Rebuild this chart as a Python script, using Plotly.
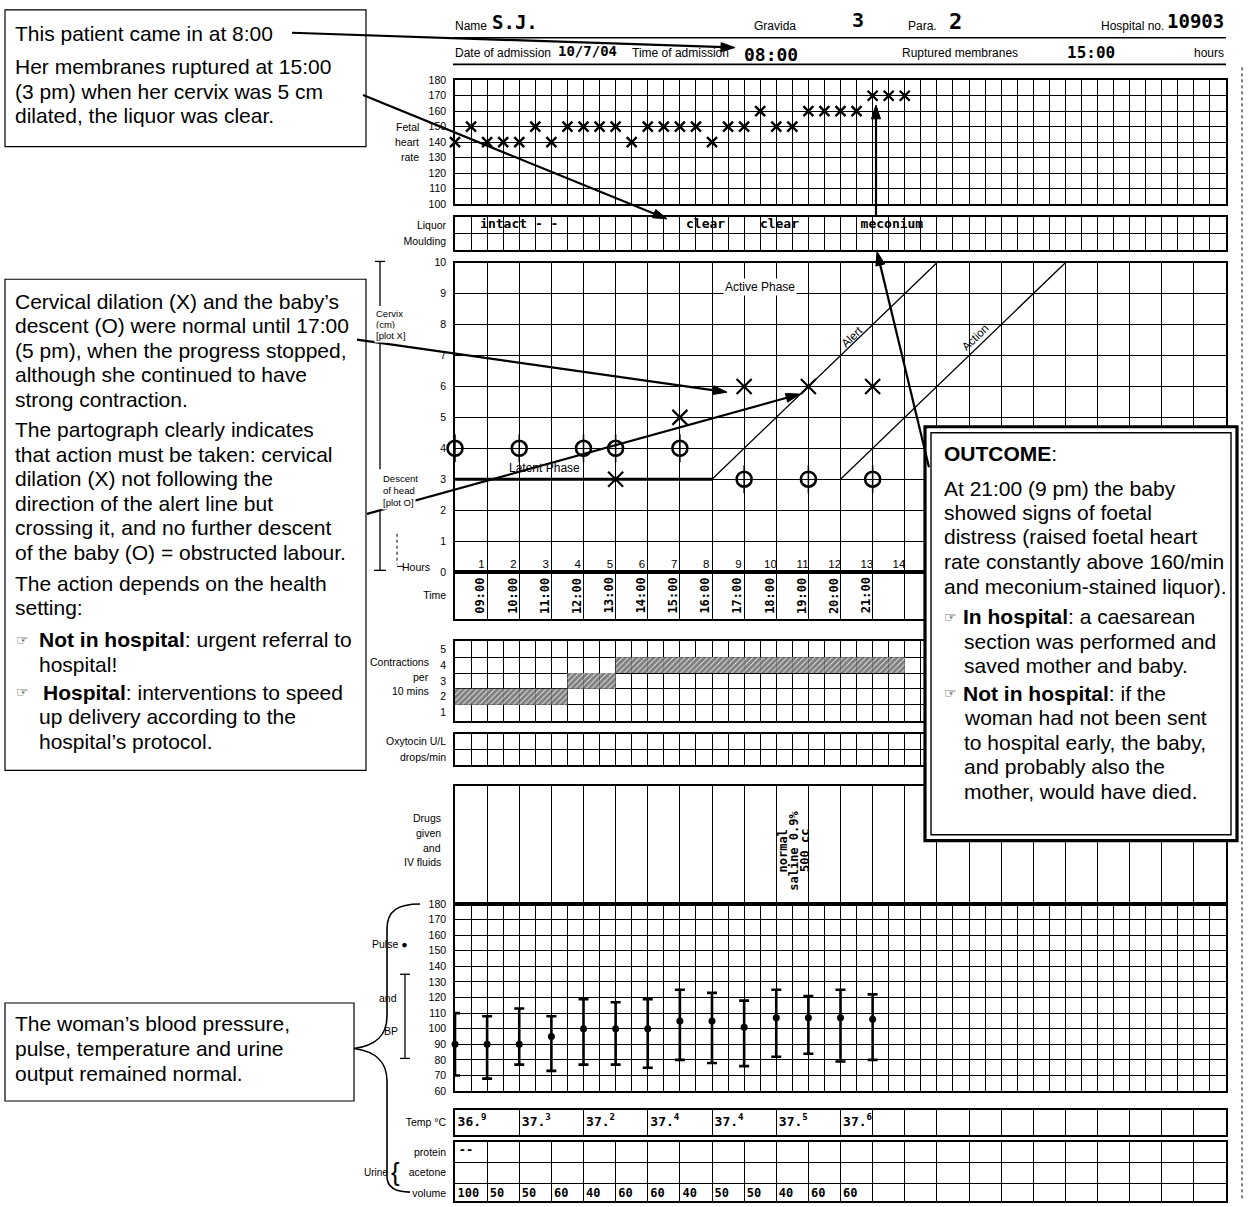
import plotly.graph_objects as go

W, H = 1251, 1207
GX0, GX1 = 455, 1226          # left / right edge of the partograph grids (px)

SANS = "Liberation Sans, Arial, sans-serif"
HAND = "DejaVu Sans Mono, monospace"

# ---------------- data (hours after admission at 08:00) ----------------
patient_name = "S.J."
gravida = "3"
para = "2"
hospital_no = "10903"
admission_date = "10/7/04"
admission_time = "08:00"
ruptured_membranes = "15:00"

fhr_time = [0, 0.5, 1, 1.5, 2, 2.5, 3, 3.5, 4, 4.5, 5, 5.5, 6, 6.5, 7, 7.5,
            8, 8.5, 9, 9.5, 10, 10.5, 11, 11.5, 12, 12.5, 13, 13.5, 14]
fhr_rate = [140, 150, 140, 140, 140, 150, 140, 150, 150, 150, 150, 140, 150, 150, 150, 150,
            140, 150, 150, 160, 150, 150, 160, 160, 160, 160, 170, 170, 170]

liquor_time = [2.0, 7.8, 10.1, 13.6]
liquor_text = ["intact - -", "clear", "clear", "meconium"]

dilation_time = [5, 7, 9, 11, 13]
dilation_cm = [3, 5, 6, 6, 6]
descent_time = [0, 2, 4, 5, 7, 9, 11, 13]
descent_fifths = [4, 4, 4, 4, 4, 3, 3, 3]

latent_time = [0, 8]
latent_cm = [3, 3]
alert_time = [8, 15]
alert_cm = [3, 10]
action_time = [12, 19]
action_cm = [3, 10]

hour_numbers = [1, 2, 3, 4, 5, 6, 7, 8, 9, 10, 11, 12, 13, 14, 15]
clock_hour = [1, 2, 3, 4, 5, 6, 7, 8, 9, 10, 11, 12, 13]
clock_text = ["09:00", "10:00", "11:00", "12:00", "13:00", "14:00", "15:00",
              "16:00", "17:00", "18:00", "19:00", "20:00", "21:00"]

contr_time = [0, 0.5, 1, 1.5, 2, 2.5, 3, 3.5, 4, 4.5, 5, 5.5, 6, 6.5,
              7, 7.5, 8, 8.5, 9, 9.5, 10, 10.5, 11, 11.5, 12, 12.5, 13, 13.5]
contr_count = [2, 2, 2, 2, 2, 2, 2, 3, 3, 3, 4, 4, 4, 4,
               4, 4, 4, 4, 4, 4, 4, 4, 4, 4, 4, 4, 4, 4]

drug_time = [10.2, 10.55, 10.9]
drug_text = ["normal", "saline 0.9%", "500 cc"]

bp_time = [0, 1, 2, 3, 4, 5, 6, 7, 8, 9, 10, 11, 12, 13]
bp_systolic = [110, 108, 113, 108, 119, 117, 119, 125, 123, 118, 125, 121, 125, 122]
bp_diastolic = [70, 68, 77, 73, 77, 77, 75, 80, 78, 76, 82, 84, 79, 80]
pulse_rate = [90, 90, 90, 95, 100, 100, 100, 105, 105, 101, 107, 107, 107, 106]

temp_time = [0, 2, 4, 6, 8, 10, 12]
temp_text = ["36.<sup>9</sup>", "37.<sup>3</sup>", "37.<sup>2</sup>", "37.<sup>4</sup>",
             "37.<sup>4</sup>", "37.<sup>5</sup>", "37.<sup>6</sup>"]

urine_time = [0, 1, 2, 3, 4, 5, 6, 7, 8, 9, 10, 11, 12]
urine_volume = [100, 50, 50, 60, 40, 60, 60, 40, 50, 50, 40, 60, 60]
protein_time = [0]
protein_text = ["--"]


def yp(y):
    return 1 - y / H


half = [k / 2 for k in range(49)]
hourly = list(range(25))
temp_grid = [0, 2, 4, 6, 8, 10, 12] + list(range(13, 25))

# panels: top px, bottom px, y range, y grid, x grid, tick values, tick texts
panels = [
    dict(top=75, bot=200, rng=[100, 180], yg=list(range(100, 181, 10)), xg=half,
         tv=list(range(100, 181, 10)), tt=[str(v) for v in range(100, 181, 10)]),
    dict(top=213, bot=246, rng=[0, 2], yg=[0, 1, 2], xg=half,
         tv=[1.5, 0.5], tt=["Liquor", "Moulding"]),
    dict(top=259.3, bot=571.7, rng=[0, 10], yg=list(range(11)), xg=hourly,
         tv=list(range(11)), tt=[str(v) for v in range(11)]),
    dict(top=571.7, bot=619.5, rng=[0, 1], yg=[], xg=hourly, tv=[0.5], tt=["Time"]),
    dict(top=641.7, bot=721.7, rng=[0, 5], yg=list(range(6)), xg=half,
         tv=[4.5, 3.5, 2.5, 1.5, 0.5], tt=["5", "4", "3", "2", "1"]),
    dict(top=735, bot=767, rng=[0, 2], yg=[0, 1, 2], xg=half,
         tv=[1.5, 0.5], tt=["Oxytocin U/L", "drops/min"]),
    dict(top=787.7, bot=907, rng=[0, 1], yg=[], xg=hourly, tv=[], tt=[]),
    dict(top=907, bot=1096, rng=[60, 180], yg=list(range(60, 181, 10)), xg=half,
         tv=list(range(60, 181, 10)), tt=[str(v) for v in range(60, 181, 10)]),
    dict(top=1115, bot=1140, rng=[0, 1], yg=[], xg=temp_grid, tv=[0.5], tt=["Temp °C"]),
    dict(top=1147, bot=1207, rng=[0.143, 3], yg=[1, 2, 3], xg=hourly,
         tv=[2.5, 1.5, 0.5], tt=["protein", "acetone", "volume"]),
]

fig = go.Figure()
axes = {}
for i, p in enumerate(panels, start=1):
    s = "" if i == 1 else str(i)
    axes[f"xaxis{s}"] = dict(
        domain=[GX0 / W, GX1 / W], range=[0, 24], anchor=f"y{s}", fixedrange=True,
        showticklabels=False, ticks="", showgrid=False, zeroline=False,
        showline=True, mirror=True, linecolor="black", linewidth=1.6,
        minor=dict(tickmode="array", tickvals=p["xg"], showgrid=True,
                   gridcolor="black", gridwidth=1.1, ticks=""))
    axes[f"yaxis{s}"] = dict(
        domain=[yp(p["bot"]), yp(p["top"])], range=p["rng"], anchor=f"x{s}", fixedrange=True,
        tickmode="array", tickvals=p["tv"], ticktext=p["tt"], ticks="",
        ticklabelstandoff=5, tickfont=dict(family=SANS, size=10.5, color="black"),
        showgrid=False, zeroline=False,
        showline=True, mirror=True, linecolor="black", linewidth=1.6,
        minor=dict(tickmode="array", tickvals=p["yg"], showgrid=True,
                   gridcolor="black", gridwidth=1.1, ticks=""))


def hand(size):
    return dict(family=HAND, size=size, color="black", weight="bold")


# ---------------- traces ----------------
fig.add_trace(go.Scatter(
    x=fhr_time, y=fhr_rate, mode="markers", xaxis="x", yaxis="y", cliponaxis=False,
    marker=dict(symbol="x-thin-open", size=10, color="black",
                line=dict(width=2.4, color="black"))))

fig.add_trace(go.Scatter(
    x=liquor_time, y=[1.5] * len(liquor_time), mode="text", text=liquor_text,
    xaxis="x2", yaxis="y2", textfont=hand(13)))

fig.add_trace(go.Scatter(x=latent_time, y=latent_cm, mode="lines", xaxis="x3", yaxis="y3",
                         line=dict(color="black", width=3.2)))
fig.add_trace(go.Scatter(x=alert_time, y=alert_cm, mode="lines", xaxis="x3", yaxis="y3",
                         line=dict(color="black", width=1.3)))
fig.add_trace(go.Scatter(x=action_time, y=action_cm, mode="lines", xaxis="x3", yaxis="y3",
                         line=dict(color="black", width=1.3)))
fig.add_trace(go.Scatter(
    x=descent_time, y=descent_fifths, mode="markers", xaxis="x3", yaxis="y3", cliponaxis=False,
    marker=dict(symbol="line-ns-open", size=20, color="black",
                line=dict(width=1.5, color="black"))))
fig.add_trace(go.Scatter(
    x=descent_time, y=descent_fifths, mode="markers", xaxis="x3", yaxis="y3", cliponaxis=False,
    marker=dict(symbol="circle-open", size=15, color="black",
                line=dict(width=2.6, color="black"))))
fig.add_trace(go.Scatter(
    x=dilation_time, y=dilation_cm, mode="markers", xaxis="x3", yaxis="y3",
    marker=dict(symbol="x-thin-open", size=15, color="black",
                line=dict(width=2.2, color="black"))))
fig.add_trace(go.Scatter(
    x=[n - 0.18 for n in hour_numbers], y=[0.22] * len(hour_numbers), mode="text",
    text=[str(n) for n in hour_numbers], xaxis="x3", yaxis="y3",
    textfont=dict(family=SANS, size=11.5, color="black")))

fig.add_trace(go.Bar(
    x=[t + 0.25 for t in contr_time], y=[1] * len(contr_time),
    base=[c - 1 for c in contr_count], width=0.5, xaxis="x5", yaxis="y5",
    marker=dict(color="white", line=dict(width=0),
                pattern=dict(shape="/", fgcolor="black", bgcolor="white", size=4, solidity=0.8))))

# oxytocin was not given: an invisible point keeps the empty oxytocin grid on the page
fig.add_trace(go.Scatter(x=[0.1], y=[0.1], mode="markers", xaxis="x6", yaxis="y6",
                         marker=dict(size=2, opacity=0), hoverinfo="skip"))

fig.add_trace(go.Scatter(
    x=bp_time, y=pulse_rate, mode="markers", xaxis="x8", yaxis="y8", cliponaxis=False,
    marker=dict(symbol="circle", size=7, color="black"),
    error_y=dict(type="data", symmetric=False,
                 array=[s - p for s, p in zip(bp_systolic, pulse_rate)],
                 arrayminus=[p - d for p, d in zip(pulse_rate, bp_diastolic)],
                 color="black", thickness=2.6, width=5)))

fig.add_trace(go.Scatter(
    x=[t + 0.08 for t in temp_time], y=[0.5] * len(temp_time), mode="text", text=temp_text,
    textposition="middle right", xaxis="x9", yaxis="y9", textfont=hand(13)))

fig.add_trace(go.Scatter(
    x=[t + 0.08 for t in urine_time], y=[0.5] * len(urine_time), mode="text",
    text=[str(v) for v in urine_volume], textposition="middle right", xaxis="x10", yaxis="y10",
    textfont=hand(12)))
fig.add_trace(go.Scatter(
    x=[t + 0.12 for t in protein_time], y=[2.55] * len(protein_time), mode="text",
    text=protein_text, textposition="middle right", xaxis="x10", yaxis="y10",
    textfont=hand(12)))

# ---------------- annotations and shapes ----------------
ann = []
shapes = []


def text(x, y, s, size=11, family=SANS, anchor="left", angle=0, bg="rgba(0,0,0,0)",
         weight="normal"):
    ann.append(dict(x=x / W, y=yp(y), xref="paper", yref="paper", text=s, showarrow=False,
                    xanchor=anchor, yanchor="middle", textangle=angle, bgcolor=bg,
                    font=dict(family=family, size=size, color="black", weight=weight)))


def line(x0, y0, x1, y1, width=1.5, dash="solid"):
    shapes.append(dict(type="line", xref="paper", yref="paper", x0=x0 / W, y0=yp(y0),
                       x1=x1 / W, y1=yp(y1), line=dict(color="black", width=width, dash=dash)))


def rect(x0, y0, x1, y1, width=1.2, fill="rgba(0,0,0,0)"):
    shapes.append(dict(type="rect", xref="paper", yref="paper", x0=x0 / W, y0=yp(y1),
                       x1=x1 / W, y1=yp(y0), fillcolor=fill, layer="above",
                       line=dict(color="black", width=width)))


def path(segs, width=1.6, fill="rgba(0,0,0,0)"):
    # one command per segment, exactly as many points as the command takes
    d = " ".join(cmd + " " + " ".join(f"{x / W:.5f},{yp(y):.5f}" for x, y in pts)
                 for cmd, pts in segs)
    shapes.append(dict(type="path", xref="paper", yref="paper", path=d.strip(),
                       fillcolor=fill, line=dict(color="black", width=width)))


def arrow(tail, head, width=2.2, hl=14, hw=4.5):
    dx, dy = head[0] - tail[0], head[1] - tail[1]
    ln = (dx * dx + dy * dy) ** 0.5
    ux, uy = dx / ln, dy / ln
    bx, by = head[0] - hl * ux, head[1] - hl * uy
    line(tail[0], tail[1], bx + 3 * ux, by + 3 * uy, width)
    nx, ny = -uy, ux
    path([("M", [head]), ("L", [(bx + hw * nx, by + hw * ny)]),
          ("L", [(bx - hw * nx, by - hw * ny)]), ("Z", [])], 1, "black")


# header of the form
text(453, 20, "Name", 12)
text(490, 16, patient_name, 19, HAND, weight="bold")
text(775, 20, "Gravida", 12, anchor="center")
text(858, 14, gravida, 20, HAND, anchor="center", weight="bold")
text(922, 20, "Para.", 12, anchor="center")
text(955, 16, para, 22, HAND, anchor="center", weight="bold")
text(1099, 20, "Hospital no.", 12)
text(1165, 15, hospital_no, 19, HAND, weight="bold")
text(453, 47, "Date of admission", 12)
text(556, 45, admission_date, 14, HAND, weight="bold")
text(630, 47, "Time of admission", 12)
text(742, 49, admission_time, 18, HAND, weight="bold")
text(900, 47, "Ruptured membranes", 12)
text(1065, 47, ruptured_membranes, 16, HAND, weight="bold")
text(1226, 47, "hours", 12, anchor="right")
line(453, 32, 1226, 32, 1.6)
line(453, 59, 1226, 59, 1.6)
line(1242, 62, 1242, 1207, 1, "dot")

# left hand labels
for yy, s in [(122, "Fetal"), (137.5, "heart"), (153, "rate")]:
    text(421, yy, s, 10.5, anchor="right")
for yy, s in [(311, "Cervix"), (322, "(cm)"), (333, "[plot X]")]:
    text(374, yy, s, 9.5, bg="white")
for yy, s in [(477, "Descent"), (489, "of head"), (501, "[plot O]")]:
    text(381, yy, s, 9.5, bg="white")
text(432, 567, "Hours", 10.5, anchor="right")
line(380, 258, 380, 303, 1.3)
line(380, 340, 380, 468, 1.3)
line(380, 510, 380, 570, 1.3)
line(375, 258, 385, 258, 1.3)
line(374, 570, 386, 570, 1.3)
line(397, 533, 397, 564, 1, "dot")
line(397, 566, 404, 566, 1)
for yy, s in [(663, "Contractions"), (678, "per"), (692, "10 mins")]:
    text(431, yy, s, 10.5, anchor="right")
for yy, s in [(820, "Drugs"), (835, "given"), (850, "and"), (865, "IV fluids")]:
    text(443, yy, s, 10.5, anchor="right")
text(410, 947, "Pulse \u25CF", 10.5, anchor="right")
text(388, 1002, "and", 10.5, anchor="center")
text(391, 1035, "BP", 10.5, anchor="center")
line(405, 978, 405, 1063, 1.3)
line(400, 978, 410, 978, 1.3)
line(400, 1063, 410, 1063, 1.3)
text(390, 1178, "Urine", 10, anchor="right")
text(396, 1178, "{", 26, SANS, anchor="center")

# phase labels and alert / action labels on the cervix chart
ann.append(dict(x=9.5, y=9.22, xref="x3", yref="y3", text="Active Phase", showarrow=False,
                bgcolor="white", font=dict(family=SANS, size=12, color="black")))
ann.append(dict(x=2.8, y=3.35, xref="x3", yref="y3", text="Latent Phase", showarrow=False,
                font=dict(family=SANS, size=12, color="black")))
ann.append(dict(x=12.35, y=7.6, xref="x3", yref="y3", text="Alert", showarrow=False,
                textangle=-44, font=dict(family=SANS, size=11.5, color="black")))
ann.append(dict(x=16.2, y=7.6, xref="x3", yref="y3", text="Action", showarrow=False,
                textangle=-44, font=dict(family=SANS, size=11.5, color="black")))

# handwritten clock times and drugs
for h, s in zip(clock_hour, clock_text):
    ann.append(dict(x=h - 0.22, y=0.5, xref="x4", yref="y4", text=s, showarrow=False,
                    textangle=-90, font=hand(12)))
for h, s in zip(drug_time, drug_text):
    ann.append(dict(x=h, y=0.45, xref="x7", yref="y7", text=s, showarrow=False,
                    textangle=-90, font=hand(12)))

# explanation boxes
rect(5, 4, 366, 142)
text(13, 28, "This patient came in at 8:00", 21)
for yy, s in [(61, "Her membranes ruptured at 15:00"), (86, "(3 pm) when her cervix was 5 cm"),
              (111, "dilated, the liquor was clear.")]:
    text(13, yy, s, 21)

rect(5, 276, 366, 772)
box2 = [(298, "Cervical dilation (X) and the baby\u2019s"),
        (322.8, "descent (O) were normal until 17:00"),
        (347.6, "(5 pm), when the progress stopped,"),
        (372.4, "although she continued to have"),
        (397.2, "strong contraction."),
        (428, "The partograph clearly indicates"),
        (452.8, "that action must be taken: cervical"),
        (477.6, "dilation (X) not following the"),
        (502.4, "direction of the alert line but"),
        (527.2, "crossing it, and no further descent"),
        (552, "of the baby (O) = obstructed labour."),
        (583, "The action depends on the health"),
        (607.8, "setting:")]
for yy, s in box2:
    text(13, yy, s, 21)
text(14, 640, "\u261E", 14, "DejaVu Sans")
text(37, 640, "<b>Not in hospital</b>: urgent referral to", 21)
text(37, 664.8, "hospital!", 21)
text(14, 693, "\u261E", 14, "DejaVu Sans")
text(41, 693, "<b>Hospital</b>: interventions to speed", 21)
text(37, 717.8, "up delivery according to the", 21)
text(37, 742.6, "hospital\u2019s protocol.", 21)

rect(5, 1007, 354, 1106)
for yy, s in [(1028, "The woman\u2019s blood pressure,"), (1053, "pulse, temperature and urine"),
              (1078, "output remained normal.")]:
    text(13, yy, s, 21)
path([("M", [(354, 1053)]), ("C", [(376, 1050), (387, 1040), (387, 1020)]),
      ("L", [(387, 932)]), ("C", [(387, 914), (398, 907), (420, 907)])])
path([("M", [(354, 1053)]), ("C", [(376, 1056), (387, 1066), (387, 1086)]),
      ("L", [(387, 1182)]), ("C", [(387, 1194), (396, 1198), (410, 1198)])])

# outcome box (covers the right part of the chart)
rect(925, 425, 1237, 843, 3.2, "white")
rect(931, 431, 1231, 837, 1.4)
text(942, 452, "<b>OUTCOME</b>:", 21)
for yy, s in [(487, "At 21:00 (9 pm) the baby"), (511.5, "showed signs of foetal"),
              (536, "distress (raised foetal heart"), (561, "rate constantly above 160/min"),
              (586, "and meconium-stained liquor).")]:
    text(942, yy, s, 21)
text(942, 617, "\u261E", 14, "DejaVu Sans")
text(961, 617, "<b>In hospital</b>: a caesarean", 21)
text(962, 641.5, "section was performed and", 21)
text(962, 666, "saved mother and baby.", 21)
text(942, 694, "\u261E", 14, "DejaVu Sans")
text(961, 694, "<b>Not in hospital</b>: if the", 21)
for yy, s in [(719, "woman had not been sent"), (744, "to hospital early, the baby,"),
              (768.5, "and probably also the"), (793, "mother, would have died.")]:
    text(962, yy, s, 21)

# arrows from the explanations to the chart
arrow((292, 27), (735, 42))
arrow((363, 90), (667, 215))
arrow((357, 337), (727, 390))
arrow((367, 513), (800, 392))
arrow((929, 466), (877, 248))
arrow((876, 211), (876, 100))

fig.update_layout(
    width=W, height=H, margin=dict(l=0, r=0, t=0, b=0),
    paper_bgcolor="white", plot_bgcolor="white", showlegend=False,
    annotations=ann, shapes=shapes, **axes)

fig.write_html("out.html", config={"displayModeBar": False},
               post_script="document.body.style.margin = '0px';")
